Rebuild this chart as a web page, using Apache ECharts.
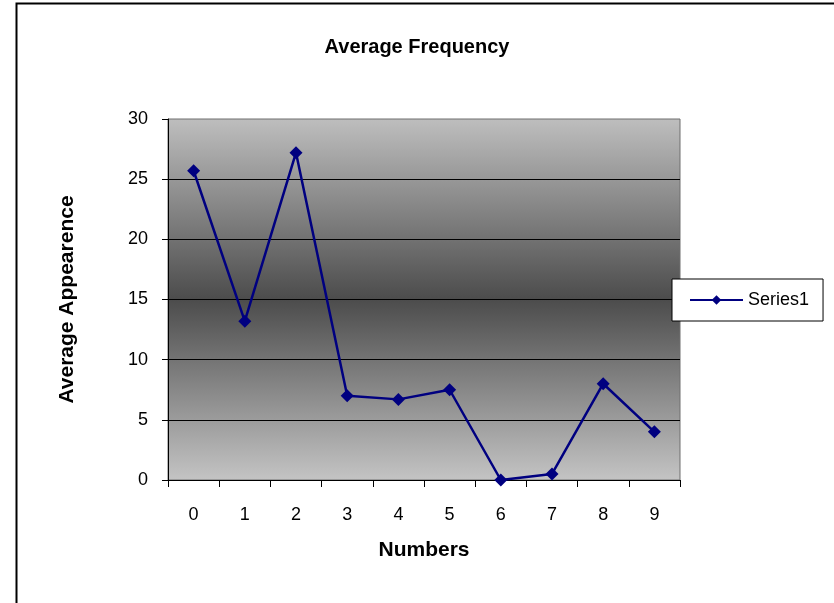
<!DOCTYPE html>
<html>
<head>
<meta charset="utf-8">
<script src="https://cdn.jsdelivr.net/npm/echarts@6/dist/echarts.min.js"></script>
<style>
html,body{margin:0;padding:0;background:#fff;}
#main{width:834px;height:603px;}
</style>
</head>
<body>
<div id="main"></div>
<script>
var categories = ['0','1','2','3','4','5','6','7','8','9'];
var series1 = [25.7, 13.2, 27.2, 7.0, 6.7, 7.5, 0, 0.5, 8.0, 4.0];
var seriesName = 'Series1';
var chartTitle = 'Average Frequency';
var xName = 'Numbers';
var yName = 'Average Appearence';

var chart = echarts.init(document.getElementById('main'), null, {renderer: 'canvas'});
var font = 'Liberation Sans, Arial, sans-serif';
chart.setOption({
  backgroundColor: '#ffffff',
  animation: false,
  textStyle: {fontFamily: font},
  graphic: [{
    type: 'rect', z: -10,
    shape: {x: 16.5, y: 3.5, width: 840, height: 620},
    style: {fill: '#ffffff', stroke: '#000', lineWidth: 2}
  }],
  title: {
    text: chartTitle, left: 'center', top: 32,
    textStyle: {fontFamily: font, fontSize: 20, fontWeight: 'bold', color: '#000'}
  },
  legend: {
    data: [seriesName],
    orient: 'vertical',
    left: 672, top: 279,
    padding: [12, 14, 12, 17],
    itemWidth: 53, itemHeight: 12,
    itemGap: 0,
    backgroundColor: '#fff',
    borderColor: '#000', borderWidth: 1,
    textStyle: {fontFamily: font, fontSize: 18, color: '#000'}
  },
  grid: {
    left: 168, top: 119, width: 512, height: 361,
    show: true,
    borderColor: '#6e6e6e', borderWidth: 1,
    backgroundColor: new echarts.graphic.LinearGradient(0, 0, 0, 1, [
      {offset: 0, color: '#bebebe'},
      {offset: 0.5, color: '#4c4c4c'},
      {offset: 1, color: '#c4c4c4'}
    ])
  },
  xAxis: {
    type: 'category',
    data: categories,
    boundaryGap: true,
    name: xName, nameLocation: 'middle', nameGap: 60,
    nameTextStyle: {fontFamily: font, fontSize: 21, fontWeight: 'bold', color: '#000'},
    axisLine: {lineStyle: {color: '#000', width: 1}},
    axisTick: {show: true, alignWithLabel: false, length: 7, lineStyle: {color: '#000'}},
    axisLabel: {fontFamily: font, fontSize: 18, color: '#000', margin: 26},
    splitLine: {show: false}
  },
  yAxis: {
    type: 'value',
    min: 0, max: 30, interval: 5,
    name: yName, nameLocation: 'middle', nameGap: 90,
    nameTextStyle: {fontFamily: font, fontSize: 21, fontWeight: 'bold', color: '#000'},
    axisLine: {show: true, lineStyle: {color: '#000', width: 1}},
    axisTick: {show: true, length: 6, lineStyle: {color: '#000'}},
    axisLabel: {fontFamily: font, fontSize: 18, color: '#000', margin: 20},
    splitLine: {show: true, showMaxLine: false, lineStyle: {color: '#000', width: 1}}
  },
  series: [{
    name: seriesName,
    type: 'line',
    data: series1,
    symbol: 'diamond',
    symbolSize: 13,
    lineStyle: {color: '#000080', width: 2.5},
    itemStyle: {color: '#000080'}
  }]
});
</script>
</body>
</html>
